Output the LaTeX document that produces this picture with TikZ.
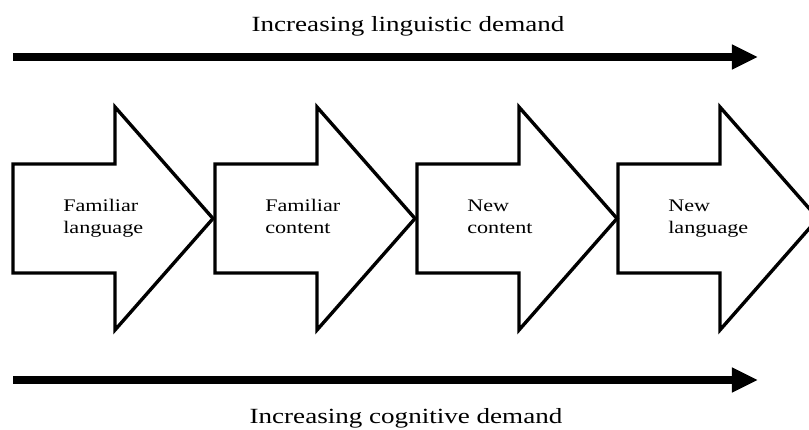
\documentclass[tikz,border=0pt]{standalone}
\usepackage{fontspec}
\setmainfont{Liberation Serif}
\newfontfamily\wideserif[FakeStretch=1.25]{Liberation Serif}
\usetikzlibrary{arrows.meta}

\begin{document}
\begin{tikzpicture}[
  x=0.025cm, y=-0.025cm,
  stage/.style={draw, line width=2.4pt, line join=miter},
  stagetext/.style={anchor=base west, align=left, inner sep=0pt,
    font=\wideserif\fontsize{12.6pt}{15.4pt}\selectfont},
  demand/.style={line width=5.7pt, -{Triangle[length=18.5pt,width=16.5pt]}},
  demandtext/.style={anchor=base, inner sep=0pt,
    font=\wideserif\fontsize{15.4pt}{18pt}\selectfont}
]
\useasboundingbox (0,0) rectangle (809,429);
\clip (0,0) rectangle (809,429);

% linguistic demand
\node[demandtext] (ling) at (408,31) {Increasing linguistic demand};
\coordinate (lingstart) at (13,57);
\coordinate (lingend) at (758,57);
\draw[demand] (lingstart) -- (lingend);

% the four stages
\foreach \x/\txt [count=\i] in {13/{Familiar\\language}, 215/{Familiar\\content},
                                417/{New\\content}, 618/{New\\language}} {
  \draw[stage] (\x,164) -- ++(102,0) -- ++(0,-57) -- (\x+200,218.5)
    -- (\x+102,330) -- ++(0,-57) -- (\x,273) -- cycle;
  \node[stagetext] (stage\i) at (\x+50,233) {\txt};
}

% cognitive demand
\coordinate (cogstart) at (13,380);
\coordinate (cogend) at (758,380);
\draw[demand] (cogstart) -- (cogend);
\node[demandtext] (cog) at (406,423) {Increasing cognitive demand};
\end{tikzpicture}
\end{document}
